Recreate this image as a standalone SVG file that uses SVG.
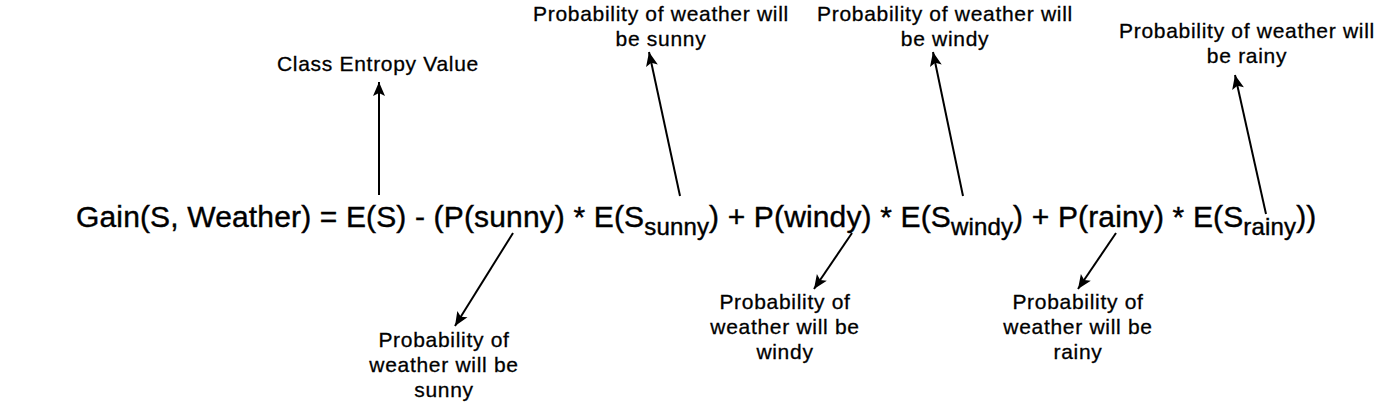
<svg xmlns="http://www.w3.org/2000/svg" width="1400" height="402" viewBox="0 0 1400 402">
<style>
.lbl{font-family:"Liberation Sans",Arial,sans-serif;font-size:21px;letter-spacing:0.7px;fill:#000;stroke:#000;stroke-width:0.3;text-anchor:middle}
.eq{font-family:"Liberation Sans",Arial,sans-serif;font-size:30px;letter-spacing:0.15px;fill:#000;stroke:#000;stroke-width:0.4}
.sub{font-size:24px}
.conn{stroke:#000;stroke-width:2;fill:none;marker-end:url(#arr)}
</style>
<defs>
<marker id="arr" markerUnits="userSpaceOnUse" viewBox="-15 -7 16 14" refX="0" refY="0" markerWidth="16" markerHeight="14" orient="auto">
<path d="M0,0 L-14,-6 L-11,0 L-14,6 Z" fill="#000"/>
</marker>
</defs>
<rect width="1400" height="402" fill="#fff"/>
<g id="equation">
<text class="eq" x="76" y="227">Gain(S, Weather) = E(S) - (P(sunny) * E(S<tspan class="sub" dy="8">sunny</tspan><tspan dy="-8">) + P(windy) * E(S</tspan><tspan class="sub" dy="8">windy</tspan><tspan dy="-8">) + P(rainy) * E(S</tspan><tspan class="sub" dy="8">rainy</tspan><tspan dy="-8">))</tspan></text>
</g>
<g id="class-entropy">
<text class="lbl" x="378" y="71">Class Entropy Value</text>
</g>
<g id="top-sunny">
<text class="lbl" x="661" y="21">Probability of weather will</text>
<text class="lbl" x="661" y="46">be sunny</text>
</g>
<g id="top-windy">
<text class="lbl" x="945" y="21">Probability of weather will</text>
<text class="lbl" x="945" y="46">be windy</text>
</g>
<g id="top-rainy">
<text class="lbl" x="1247" y="38">Probability of weather will</text>
<text class="lbl" x="1247" y="63">be rainy</text>
</g>
<g id="bottom-sunny">
<text class="lbl" x="444" y="347">Probability of</text>
<text class="lbl" x="444" y="372">weather will be</text>
<text class="lbl" x="444" y="397">sunny</text>
</g>
<g id="bottom-windy">
<text class="lbl" x="785" y="309">Probability of</text>
<text class="lbl" x="785" y="334">weather will be</text>
<text class="lbl" x="785" y="359">windy</text>
</g>
<g id="bottom-rainy">
<text class="lbl" x="1078" y="309">Probability of</text>
<text class="lbl" x="1078" y="334">weather will be</text>
<text class="lbl" x="1078" y="359">rainy</text>
</g>
<g id="connectors">
<line class="conn" x1="379" y1="195" x2="379" y2="82"/>
<line class="conn" x1="680" y1="196" x2="649" y2="52"/>
<line class="conn" x1="963" y1="196" x2="933" y2="52"/>
<line class="conn" x1="1266" y1="214" x2="1235" y2="75"/>
<line class="conn" x1="513" y1="233" x2="455" y2="326"/>
<line class="conn" x1="852" y1="233" x2="814" y2="289"/>
<line class="conn" x1="1116" y1="233" x2="1078" y2="289"/>
</g>
</svg>
